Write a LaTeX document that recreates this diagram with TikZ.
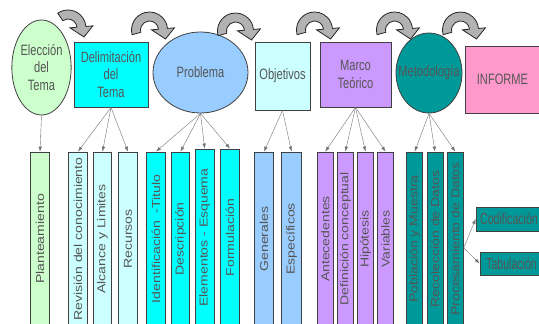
\documentclass[tikz,border=0pt]{standalone}
\usepackage{fontspec}
\newfontfamily\topfont{Liberation Sans}[FakeStretch=0.74]
\newfontfamily\barfont{Liberation Sans}[FakeStretch=1.22]
\newfontfamily\boxfont{Liberation Sans}[FakeStretch=0.66]
\usetikzlibrary{%
    arrows.meta,
    shapes.geometric,
    positioning
}
\definecolor{temagreen}{HTML}{CCFFCC}
\definecolor{paleaqua}{HTML}{CCFFFF}
\definecolor{aqua}{HTML}{00FFFF}
\definecolor{skyblue}{HTML}{99CCFF}
\definecolor{lilac}{HTML}{CC99FF}
\definecolor{methteal}{HTML}{009999}
\definecolor{rose}{HTML}{FF99CC}
\definecolor{labelgray}{HTML}{555555}
\tikzset{headarrow/.style = {-{Latex[length=5pt,width=3.5pt]}}}
\tikzset{link/.style = {draw=black!55, headarrow}}
\tikzset{topnode/.style = {draw=black!75, line width=0.8pt, text=labelgray, inner sep=0pt,
    align=center, font=\topfont\fontsize{15}{17.5}\selectfont}}
\tikzset{topbox/.style = {topnode, rectangle}}
\tikzset{topoval/.style = {topnode, ellipse}}
\tikzset{bar/.style = {draw=black!75, line width=0.8pt, text=labelgray, rotate=90, inner sep=0pt,
    minimum width=174, minimum height=18.5, font=\barfont\fontsize{11.5}{13}\selectfont}}
\tikzset{thinbar/.style = {bar, minimum height=16}}
\tikzset{sidebox/.style = {draw=black!75, line width=0.8pt, fill=methteal, text=labelgray,
    inner sep=0pt, font=\boxfont\fontsize{16}{18}\selectfont}}
\tikzset{turnarrow/.style = {fill=black!30, draw=black!85, line width=0.8pt}}

\begin{document}
\begin{tikzpicture}[x=1pt, y=1pt]
    \useasboundingbox (0,0) rectangle (539,-324);
    \clip (0,0) rectangle (539,-324);

    % stages
    \node (eleccion) [topoval, fill=temagreen, minimum width=59, minimum height=95] at (41.5,-67.5) {Elección\\del\\Tema};
    \node (delimit) [topbox, fill=aqua, minimum width=74, minimum height=65] at (111,-74.5) {Delimitación\\del\\Tema};
    \node (problema) [topoval, fill=skyblue, minimum width=95, minimum height=81] at (200.5,-72.5) {Problema};
    \node (objetivos) [topbox, fill=paleaqua, minimum width=55, minimum height=68] at (282.5,-76) {Objetivos};
    \node (marco) [topbox, fill=lilac, minimum width=71, minimum height=65] at (355.5,-74.5) {Marco\\Teórico};
    \node (metodo) [topoval, fill=methteal, minimum width=66, minimum height=80, inner xsep=-12pt] at (429,-73) {Metodología};
    \node (informe) [topbox, fill=rose, minimum width=75, minimum height=67] at (502.5,-79.5) {INFORME};

    % turning arrows between stages
    \foreach \Cx/\Cy/\Start in {68/-28/125, 149.5/-30/195, 235.5/-31/195, 314.5/-30/195, 394.5/-30/195, 460.5/-30/195}
        \filldraw[turnarrow, shift={(\Cx,\Cy)}] (\Start:18) arc[start angle=\Start, end angle=5, radius=18]
            -- (5:25) -- (16,-9) -- (5:2) -- (5:9) arc[start angle=5, end angle=\Start, radius=9] -- cycle;

    % items
    \node (plan) [bar, fill=temagreen] at (40,-239) {Planteamiento};
    \node (revision) [bar, fill=paleaqua] at (78,-239) {Revisión del conocimiento};
    \node (alcance) [bar, fill=paleaqua] at (102.5,-239) {Alcance y Limites};
    \node (recursos) [bar, fill=paleaqua] at (128,-239) {Recursos};
    \node (ident) [bar, fill=aqua] at (156,-239) {Identificación~ -Titulo};
    \node (descrip) [bar, fill=aqua] at (180.5,-239) {Descripción};
    \node (elementos) [bar, fill=aqua, minimum width=177] at (204.7,-237.5) {Elementos - Esquema};
    \node (formul) [bar, fill=aqua, minimum width=177] at (230,-237.5) {Formulación};
    \node (generales) [bar, fill=skyblue] at (264,-239) {Generales};
    \node (especificos) [bar, fill=skyblue, minimum height=20] at (291.5,-239) {Específicos};
    \node (antec) [thinbar, fill=lilac] at (325.3,-239) {Antecedentes};
    \node (defcon) [thinbar, fill=lilac] at (345.3,-239) {Definición conceptual};
    \node (hipotesis) [thinbar, fill=lilac] at (365.5,-239) {Hipótesis};
    \node (variables) [thinbar, fill=lilac] at (385.5,-239) {Variables};
    \node (poblacion) [thinbar, fill=methteal] at (414.7,-239) {Población y Muestra};
    \node (recoleccion) [thinbar, fill=methteal] at (435,-239) {Recolección de Datos};
    \node (proces) [thinbar, fill=methteal] at (455.3,-239) {Procesamiento de Datos};

    \node (codif) [sidebox, minimum width=66, minimum height=24] at (509,-219) {Codificación};
    \node (tabul) [sidebox, minimum width=63, minimum height=23] at (511.5,-263.5) {Tabulación};

    \foreach \Source/\Target in {eleccion/plan, delimit/revision, delimit/alcance, delimit/recursos,
            problema/ident, problema/descrip, problema/elementos, problema/formul,
            objetivos/generales, objetivos/especificos,
            marco/antec, marco/defcon, marco/hipotesis, marco/variables,
            metodo/poblacion, metodo/recoleccion, metodo/proces}
        \draw[link] (\Source.south) to (\Target.east);

    \foreach \Target in {codif, tabul}
        \draw[link] ([yshift=-9pt]proces.south) to (\Target.west);
\end{tikzpicture}
\end{document}
